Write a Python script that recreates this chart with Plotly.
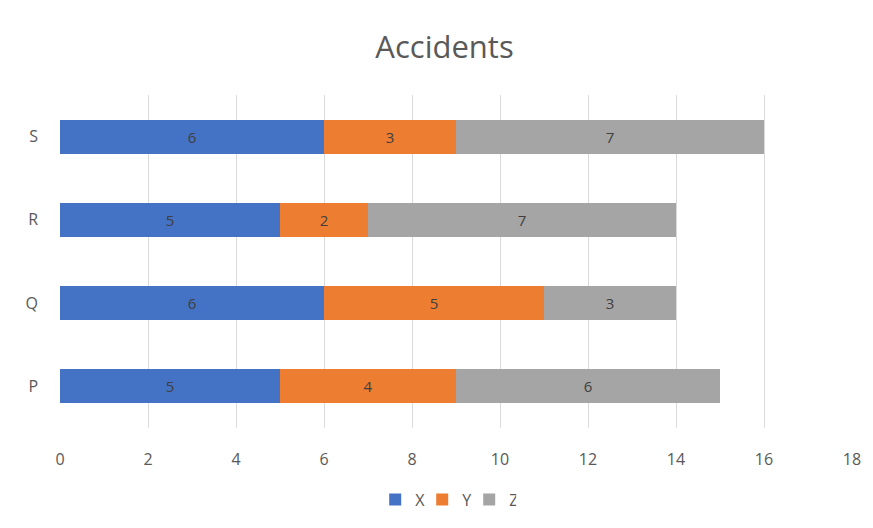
import plotly.graph_objects as go

categories = ["P", "Q", "R", "S"]
x_vals = [5, 6, 5, 6]
y_vals = [4, 5, 2, 3]
z_vals = [6, 3, 7, 7]
x_ticks = [0, 2, 4, 6, 8, 10, 12, 14, 16, 18]

series = [("X", x_vals, "#4472C4"), ("Y", y_vals, "#ED7D31"), ("Z", z_vals, "#A5A5A5")]
FONT = "Open Sans, Liberation Sans, sans-serif"

fig = go.Figure()
for name, vals, color in series:
    fig.add_trace(go.Bar(
        y=categories, x=vals, name=name, orientation="h",
        marker=dict(color=color, line=dict(width=0)),
        text=[str(v) for v in vals], textposition="inside", insidetextanchor="middle",
        textfont=dict(color="#404040", size=15, family=FONT),
    ))

fig.update_layout(
    barmode="stack", bargap=0.59,
    width=873, height=528,
    margin=dict(l=52, r=29, t=87, b=108, autoexpand=False),
    paper_bgcolor="white", plot_bgcolor="white",
    title=dict(text="Accidents", x=0.5, xanchor="center", y=0.925, yanchor="middle",
               font=dict(size=31, color="#595959", family=FONT)),
    font=dict(family=FONT, color="#595959", size=16),
    xaxis=dict(range=[0, 18], tickvals=x_ticks, showgrid=True, gridcolor="#D9D9D9", gridwidth=1,
               zeroline=False, showline=False, ticklabelstandoff=20, automargin=False,
               tickfont=dict(size=16, color="#595959")),
    yaxis=dict(categoryorder="array", categoryarray=categories, showgrid=False, showline=False,
               ticklabelstandoff=21, automargin=False, tickfont=dict(size=16, color="#595959")),
    legend=dict(orientation="h", x=0.487, xanchor="center", y=-0.215, yanchor="middle",
                font=dict(size=16, color="#595959"), itemwidth=30, traceorder="normal",
                entrywidth=2, entrywidthmode="pixels"),
    showlegend=True,
)

fig.write_html("out.html")
